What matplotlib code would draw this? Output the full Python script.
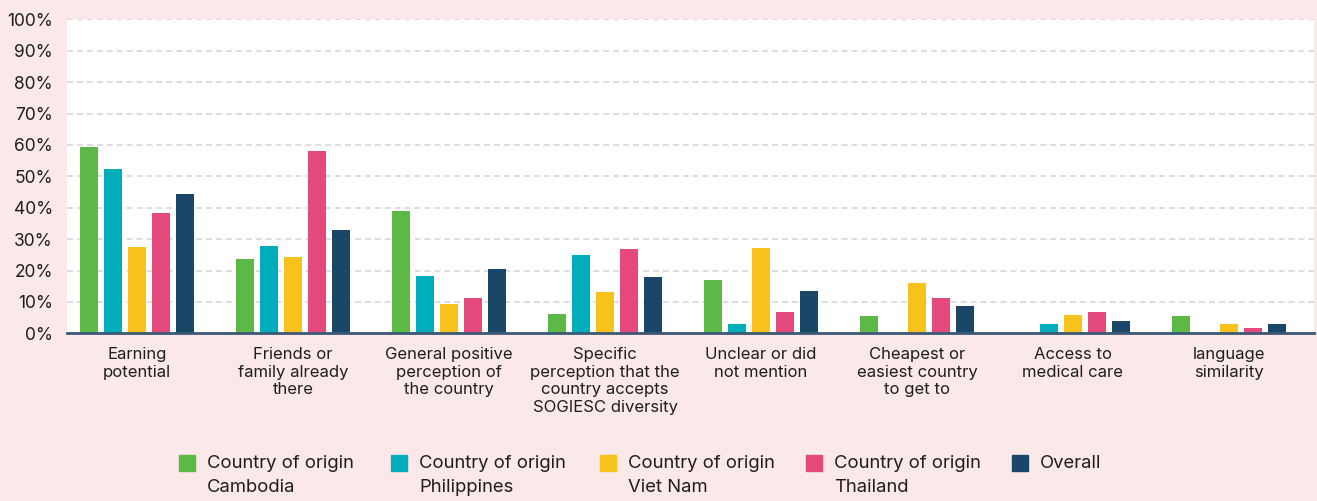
import matplotlib
matplotlib.use('Agg')
import matplotlib.pyplot as plt
from matplotlib.patches import Rectangle
import numpy as np

plt.rcParams['font.family'] = ['Inter', 'DejaVu Sans']

# ---- data ----
categories = ['Earning\npotential',
              'Friends or\nfamily already\nthere',
              'General positive\nperception of\nthe country',
              'Specific\nperception that the\ncountry accepts\nSOGIESC diversity',
              'Unclear or did\nnot mention',
              'Cheapest or\neasiest country\nto get to',
              'Access to\nmedical care',
              'language\nsimilarity']
series_names = ['Country of origin\nCambodia', 'Country of origin\nPhilippines',
                'Country of origin\nViet Nam', 'Country of origin\nThailand', 'Overall']
cambodia    = [59.3, 23.7, 39.0,  6.2, 17.0,  5.5, 0.0, 5.5]
philippines = [52.3, 27.8, 18.3, 24.9,  3.0,  0.0, 3.0, 0.0]
vietnam     = [27.5, 24.3,  9.3, 13.2, 27.2, 16.0, 5.8, 3.0]
thailand    = [38.3, 58.1, 11.3, 26.9,  6.8, 11.3, 6.8, 1.7]
overall     = [44.4, 32.9, 20.5, 17.9, 13.5,  8.7, 3.9, 3.0]
yticks = list(range(0, 101, 10))

colors = ['#5DB946', '#00AEBB', '#F8C21C', '#E5487A', '#1A4668']
bg = '#FBE8E9'
txt = '#1E1E1E'

fig = plt.figure(figsize=(13.17, 5.01), dpi=100, facecolor=bg)
ax = fig.add_axes([67/1317, 1-333.3/501, (1314-67)/1317, (333.3-19.3)/501])
ax.set_facecolor('white')

x = np.arange(len(categories))
step = 0.155
width = 0.116
for i, (vals, c) in enumerate(zip([cambodia, philippines, vietnam, thailand, overall], colors)):
    ax.bar(x + (i-2)*step, vals, width=width, color=c, zorder=3)

ax.set_ylim(0, 100)
ax.set_xlim(-0.449, 7.545)
ax.set_yticks(yticks)
ax.set_yticklabels(['%d%%' % t for t in yticks], fontsize=12.5, color=txt)
ax.set_xticks(x)
ax.set_xticklabels(categories, fontsize=12, color=txt, linespacing=1.22)
ax.tick_params(axis='both', length=0)
ax.tick_params(axis='y', pad=10)
ax.tick_params(axis='x', pad=10)
ax.yaxis.grid(True, color='#D3D3DD', linewidth=1.1, linestyle=(0, (3.9, 2.6)), zorder=0)
ax.set_axisbelow(True)
for s in ['left', 'right', 'top']:
    ax.spines[s].set_visible(False)
ax.spines['bottom'].set_color('#3B5875')
ax.spines['bottom'].set_linewidth(2)
ax.spines['bottom'].set_zorder(4)

# legend, squares top-aligned with first text line
leg_x = [179, 391, 600, 806, 1012]
for lx, name, c in zip(leg_x, series_names, colors):
    fig.patches.append(Rectangle((lx/1317, 1-471/501), 16/1317, 16/501,
                                 transform=fig.transFigure, color=c, figure=fig))
    fig.text((lx+28)/1317, 1-455/501, name, fontsize=13.3, color=txt,
             va='top', ha='left', linespacing=1.5)

fig.savefig('out.png', dpi=100, facecolor=bg)
